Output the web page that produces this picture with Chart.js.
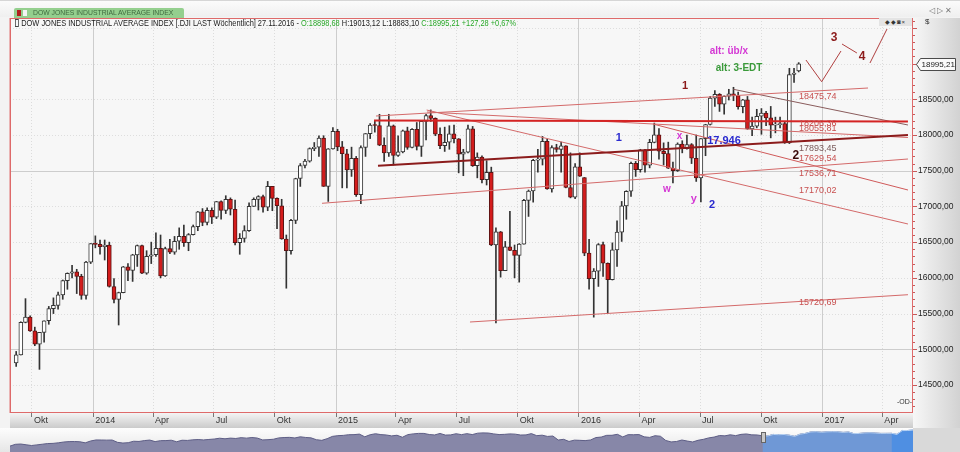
<!DOCTYPE html>
<html><head><meta charset="utf-8">
<script src="https://cdn.jsdelivr.net/npm/chart.js@4.4.1/dist/chart.umd.min.js"></script>
<style>
html,body{margin:0;padding:0}
body{width:960px;height:452px;overflow:hidden;background:#f3f3f3;font-family:"Liberation Sans",Arial,sans-serif;position:relative}
canvas{position:absolute;left:0}
#main{top:0}
#nav{top:428px}
.topbar{position:absolute;left:0;top:0;width:960px;height:17px;background:linear-gradient(#fbfbfb,#efefef);border-top:1px solid #d6d6d6;box-sizing:border-box}
.tab{position:absolute;left:14px;top:7px;width:170px;height:10px;background:#94cf8e;border-radius:2px 2px 0 0}
.tab i{position:absolute;top:2px;width:4px;height:6px}
.tab span{position:absolute;left:19px;top:0;font-size:7.5px;line-height:10px;color:#3f6a3f;white-space:nowrap;transform:scaleX(0.91);transform-origin:0 0}
.winbtn{position:absolute;right:6px;top:5px;font-size:8px;color:#777;letter-spacing:2px}
.hdr{position:absolute;left:15px;top:17px;font-size:9.5px;line-height:11px;color:#1a1a1a;white-space:nowrap;transform:scaleX(0.78);transform-origin:0 0}
.hdr .g{color:#2aa82a}
.ic{display:inline-block;width:3px;height:6px;border:1px solid #444;margin-right:3px;vertical-align:-1px}
.tools{position:absolute;left:879px;top:18px;width:33px;height:8px;background:#e4e4e4;font-size:6px;line-height:8px;color:#333;text-align:center;letter-spacing:1px}
.dollar{position:absolute;left:925px;top:17px;font-size:8px;color:#333}
.od{position:absolute;left:897px;top:398px;font-size:7px;color:#333}
</style></head><body>
<canvas id="main" width="960" height="452"></canvas>
<canvas id="nav" width="960" height="24"></canvas>
<div class="topbar">
  <div class="tab"><i style="left:3px;background:#b21e1e"></i><i style="left:9px;background:#f4f4f4"></i><span>DOW JONES INDUSTRIAL AVERAGE INDEX</span></div>
  <div class="winbtn">◁▷✕</div>
</div>
<div class="hdr" id="hdr"></div>
<div class="tools">◆◆◙×</div>
<div class="dollar">$</div>
<div class="od">-OD-</div>
<script>
// ---------- DATA (weekly candles, first candle = week ending 2013-09-08) ----------
const firstWeekEnd = '2013-09-08';
const open = [
14810,14922,15376,15452,15258,15073,15237,15400,15570,15615,15762,15962,16064,16086,16020,15755,16221,16479,
16469,16437,16459,15879,15698,15794,16154,16103,16322,16453,16065,16303,16323,16413,16027,16409,16361,16513,16583,16491,16606,16717,16924,16776,16947,16851,17068,16944,17100,16960,16493,16553,16662,17001,17098,17138,16988,17280,17113,17009,16544,16380,16805,17391,17573,17634,17810,17828,17958,17281,17805,18053,
17833,17737,17511,17672,17165,17825,18019,18140,18133,17856,17749,18128,17713,17763,18057,17826,18080,17841,18191,18272,18232,18011,17849,17898,18015,17947,17730,17760,18086,17569,17690,17373,17477,16460,16643,16102,16433,16385,16315,16472,17084,17216,17647,17663,17910,17245,17824,17798,17848,17265,17128,17553,
17405,16346,15988,16094,16466,16205,15974,16392,16640,17007,17213,17602,17516,17792,17577,17897,18003,17773,17740,17535,17500,17873,17807,17865,17675,17400,17949,18147,18517,18571,18433,18543,18577,18553,18395,18492,18085,18124,18262,18308,18240,18138,18145,18161,17888,18847,18898.68
];
const high = [
14970,15385,15709,15470,15310,15130,15400,15600,15720,15800,15970,16070,16174,16120,16050,16230,16480,16588,
16530,16530,16500,15990,15800,16160,16200,16330,16460,16460,16380,16500,16630,16600,16430,16540,16580,16700,16740,16620,16740,16930,16970,16980,16980,17070,17080,17150,17120,17090,16620,16730,17050,17120,17150,17160,17350,17280,17120,17100,16600,16820,17395,17600,17660,17820,17895,17990,17990,17810,18103,18080,
17910,17800,17830,17700,17850,18020,18160,18200,18290,17960,18290,18140,17990,18070,18110,18090,18175,18200,18290,18351,18240,18100,18110,18130,18140,17950,17800,18140,18120,17750,17710,17640,17550,16700,16650,16510,16930,16460,16480,17100,17230,17660,17800,17980,17940,17850,17870,17900,17850,17750,17600,17750,
17405,16540,16130,16480,16500,16210,16490,16800,17070,17220,17620,17630,17800,17800,17940,18167,18090,17890,17900,17620,17890,17920,18000,17880,18000,17950,18150,18540,18622,18580,18550,18640,18668,18600,18500,18540,18250,18360,18370,18330,18400,18250,18250,18190,18934,18935,19013.12
];
const low = [
14760,14920,15370,15250,15050,14719,15100,15350,15500,15560,15700,15840,16000,15780,15700,15700,16200,16420,
16330,16250,15870,15650,15340,15790,15960,15950,16160,16060,16050,16200,16300,16000,16020,16340,16330,16400,16440,16380,16600,16660,16730,16740,16760,16830,16820,16900,16880,16460,16330,16500,16650,17000,16950,16920,16940,16940,16690,16540,15855,16330,16760,17280,17540,17620,17780,17700,17280,17070,17800,17780,
17260,17260,17420,17140,17040,17700,17950,18040,17850,17630,17700,17580,17700,17750,17800,17820,17790,17700,17930,18190,17990,17810,17770,17800,17890,17470,17430,17750,17560,17400,17330,17300,16450,15370,16010,16100,16380,16000,15940,16470,16860,17060,17480,17580,17240,17200,17760,17480,17260,17120,17110,17420,
16310,15840,15450,15880,16020,15503,15970,16160,16510,16820,17140,17420,17480,17480,17540,17890,17660,17580,17530,17330,17490,17750,17800,17600,17350,17063,17710,18140,18400,18330,18290,18490,18480,18360,18310,18080,17990,18100,18010,18130,17960,18030,18100,17883,17880,18736,18883.10
];
const close = [
14922,15376,15452,15258,15073,15237,15400,15570,15615,15762,15962,16064,16086,16020,15755,16221,16479,16469,
16437,16459,15879,15698,15794,16154,16103,16322,16453,16065,16303,16323,16413,16027,16409,16361,16513,16583,16491,16606,16717,16924,16776,16947,16851,17068,16944,17100,16960,16493,16553,16662,17001,17098,17138,16988,17280,17113,17009,16544,16380,16805,17391,17573,17634,17810,17828,17958,17281,17805,18053,17833,
17737,17511,17672,17165,17825,18019,18140,18133,17856,17749,18128,17713,17763,18057,17826,18080,17841,18191,18272,18232,18011,17849,17898,18015,17947,17730,17760,18086,17569,17690,17373,17477,16460,16643,16102,16433,16385,16315,16472,17084,17216,17647,17663,17910,17245,17824,17798,17848,17265,17128,17553,17425,
16346,15988,16094,16466,16205,15974,16392,16640,17007,17213,17602,17516,17792,17577,17897,18003,17773,17740,17535,17500,17873,17807,17865,17675,17400,17949,18147,18517,18571,18433,18543,18577,18553,18395,18492,18085,18124,18262,18308,18240,18138,18145,18161,17888,18847,18868,18995.21
];
const prevClose = 18867.93;

// x-axis tick labels (quarters) and their dates
const xTickDates = ['2013-10-01','2014-01-01','2014-04-01','2014-07-01','2014-10-01','2015-01-01','2015-04-01','2015-07-01','2015-10-01','2016-01-01','2016-04-01','2016-07-01','2016-10-01','2017-01-01','2017-04-01'];
const xTickLabels = ['Okt','2014','Apr','Jul','Okt','2015','Apr','Jul','Okt','2016','Apr','Jul','Okt','2017','Apr'];
const yTicks = [14500,15000,15500,16000,16500,17000,17500,18000,18500,19000,19500];

// trend lines: [weekIndex, value] end points
const lineUpperChannel = [[77.25,18266],[182.88,18658]];
const lineTopHorizontal = [[76.82,18203],[191.46,18189]];
const lineNeck = [[77.68,17570],[191.46,17999]];
const lineFromMay15A = [[88.13,18350],[191.46,16754]];
const lineFromMay15B = [[88.2,18322],[191.46,17965]];
const lineLow2015 = [[65.66,17044],[191.46,17664]];
const lineBottom = [[97.43,15382],[191.46,15764]];
const lineFromApr16 = [[136.72,18154],[191.46,17230]];
const lineFromJul16 = [[153.96,18640],[191.46,18140]];
const waveV = [[169.56,19050],[172.93,18746],[177.08,19176]];
const wave34 = [[177.3,19274],[180.5,19148]];
const wave4up = [[183.3,19008],[186.96,19484]];

// level labels
const levelTexts = ['18475,74','18206,36','18055,81','17893,45','17629,54','17536,71','17170,02','15720,69'];
const levelAt = [18536,18160,18090,17814,17674,17464,17220,15652];
const levelX = 168.06;

// wave notes
const notes = [
  {t:'1', i:143.6, v:18686, c:'#8b1a1a', s:11},
  {t:'3', i:175.6, v:19358, c:'#8b1a1a', s:12},
  {t:'4', i:181.6, v:19092, c:'#8b1a1a', s:12},
  {t:'alt: üb/x', i:153.0, v:19176, c:'#d438d4', s:10},
  {t:'alt: 3-EDT', i:155.2, v:18938, c:'#3a9a3a', s:10},
  {t:'1', i:129.4, v:17962, c:'#2a2acf', s:11},
  {t:'x', i:142.4, v:17986, c:'#d438d4', s:10},
  {t:'17.946', i:151.96, v:17916, c:'#2a2acf', s:11},
  {t:'w', i:139.7, v:17244, c:'#d438d4', s:10},
  {t:'y', i:145.5, v:17100, c:'#d438d4', s:11},
  {t:'2', i:149.4, v:17020, c:'#2a2acf', s:11},
  {t:'2', i:167.4, v:17706, c:'#3a0a0a', s:12}
];
const navWindowStart = 140;
const navWindowEnd = 164;

// ---------- helpers ----------
const fmt = v => v.toFixed(2).replace('.', ',');
const DAY = 86400000;
const weekIdx = d => (Date.parse(d) - Date.parse(firstWeekEnd)) / (7 * DAY);
const xTickPos = xTickDates.map(weekIdx);
const N = close.length;
const FONT = '"Liberation Sans", Arial, sans-serif';

// header text
(function(){
  const L = N - 1, ch = close[L] - prevClose;
  document.getElementById('hdr').innerHTML =
    '<span class="ic"></span>DOW JONES INDUSTRIAL AVERAGE INDEX [.DJI LAST Wöchentlich] 27.11.2016 - ' +
    '<span class="g">O:' + fmt(open[L]) + '</span> H:' + fmt(high[L]) + ' L:' + fmt(low[L]) +
    ' <span class="g">C:' + fmt(close[L]) + ' +' + fmt(ch) + ' +' + fmt(ch / prevClose * 100) + '%</span>';
})();

const up = i => close[i] >= open[i];
const pts = a => a.map(p => ({x:p[0], y:p[1]}));
function lineDs(arr, color, width){
  return {type:'line', data:pts(arr), borderColor:color, borderWidth:width, pointRadius:0, fill:false, tension:0, order:0};
}

const bgPlugin = {
  id:'bg',
  beforeDraw(chart){
    const {ctx, chartArea:a, scales:{x, y}} = chart;
    ctx.save();
    ctx.fillStyle = '#f3f3f3'; ctx.fillRect(0, 0, chart.width, chart.height);
    ctx.fillStyle = '#f7f7f7'; ctx.fillRect(a.left, a.top, a.right - a.left, a.bottom - a.top);
    let g = ctx.createLinearGradient(a.right, 0, chart.width, 0);
    g.addColorStop(0, '#f7f7f7'); g.addColorStop(1, '#d2d2d2');
    ctx.fillStyle = g; ctx.fillRect(a.right, a.top, chart.width - a.right, a.bottom + 15 - a.top);
    g = ctx.createLinearGradient(0, a.bottom, 0, a.bottom + 15);
    g.addColorStop(0, '#f4f4f4'); g.addColorStop(1, '#cbcbcb');
    ctx.fillStyle = g; ctx.fillRect(a.left, a.bottom, a.right - a.left, 15);
    // grid
    ctx.lineWidth = 1;
    xTickPos.forEach((v, k) => {
      const px = Math.round(x.getPixelForValue(v)) + 0.5;
      const major = /^\d{4}$/.test(xTickLabels[k]);
      ctx.strokeStyle = major ? '#cdcdcd' : '#dcdcdc';
      ctx.setLineDash(major ? [] : [1, 2]);
      ctx.beginPath(); ctx.moveTo(px, a.top); ctx.lineTo(px, a.bottom); ctx.stroke();
    });
    yTicks.forEach(v => {
      const py = Math.round(y.getPixelForValue(v)) + 0.5;
      const major = v % 2500 === 0;
      ctx.strokeStyle = major ? '#cdcdcd' : '#dedede';
      ctx.setLineDash(major ? [] : [1, 2]);
      ctx.beginPath(); ctx.moveTo(a.left, py); ctx.lineTo(a.right, py); ctx.stroke();
    });
    ctx.setLineDash([]);
    ctx.restore();
  },
  afterDatasetsDraw(chart){
    const {ctx, scales:{x, y}} = chart;
    ctx.save();
    ctx.textBaseline = 'middle';
    ctx.textAlign = 'left';
    ctx.font = '9px ' + FONT;
    levelTexts.forEach((t, k) => {
      ctx.fillStyle = t === '17893,45' ? '#7a5a5a' : '#c85050';
      ctx.fillText(t, x.getPixelForValue(levelX), y.getPixelForValue(levelAt[k]));
    });
    ctx.textAlign = 'center';
    notes.forEach(n => {
      ctx.font = 'bold ' + n.s + 'px ' + FONT;
      ctx.fillStyle = n.c;
      ctx.fillText(n.t, x.getPixelForValue(n.i), y.getPixelForValue(n.v));
    });
    ctx.restore();
  },
  afterDraw(chart){
    const {ctx, chartArea:a, scales:{x, y}} = chart;
    ctx.save();
    ctx.lineWidth = 1;
    // axis ticks
    ctx.strokeStyle = '#c85a5a';
    for (let v = 14200; v <= 19600; v += 100) {
      const py = Math.round(y.getPixelForValue(v)) + 0.5;
      const len = v % 500 === 0 ? 4 : 2;
      ctx.beginPath(); ctx.moveTo(a.right, py); ctx.lineTo(a.right + len, py); ctx.stroke();
    }
    ctx.strokeStyle = '#777';
    xTickPos.forEach(v => {
      const px = Math.round(x.getPixelForValue(v)) + 0.5;
      ctx.beginPath(); ctx.moveTo(px, a.bottom); ctx.lineTo(px, a.bottom + 4); ctx.stroke();
    });
    // border
    ctx.strokeStyle = '#eab4b4';
    ctx.beginPath(); ctx.moveTo(a.left - 0.5, a.top); ctx.lineTo(a.left - 0.5, a.bottom); ctx.stroke();
    ctx.strokeStyle = '#de6a6a';
    ctx.strokeRect(a.left + 0.5, a.top + 0.5, a.right - a.left - 1, a.bottom - a.top - 1);
    // price tag
    const last = close[N - 1];
    const py = Math.round(y.getPixelForValue(last)) + 0.5;
    const x0 = a.right + 3.5, x1 = a.right + 7.5, x2 = chart.width - 4.5;
    ctx.beginPath();
    ctx.moveTo(x0, py); ctx.lineTo(x1, py - 6); ctx.lineTo(x2, py - 6); ctx.lineTo(x2, py + 6); ctx.lineTo(x1, py + 6); ctx.closePath();
    ctx.fillStyle = '#fafafa'; ctx.fill();
    ctx.strokeStyle = '#4a4a4a'; ctx.stroke();
    ctx.fillStyle = '#222'; ctx.font = '8px ' + FONT; ctx.textBaseline = 'middle'; ctx.textAlign = 'left';
    ctx.fillText(fmt(last), x1 + 1, py + 0.5);
    ctx.restore();
  }
};

const idx = Array.from({length:N}, (_, i) => i);
new Chart(document.getElementById('main'), {
  type:'bar',
  data:{
    datasets:[
      lineDs(lineUpperChannel, '#d46a6a', 1),
      lineDs(lineTopHorizontal, '#d42424', 2),
      lineDs(lineNeck, '#8c1c1c', 2),
      lineDs(lineFromMay15A, '#d46a6a', 1),
      lineDs(lineFromMay15B, '#d46a6a', 1),
      lineDs(lineLow2015, '#d46a6a', 1),
      lineDs(lineBottom, '#d46a6a', 1),
      lineDs(lineFromApr16, '#d05a5a', 1),
      lineDs(lineFromJul16, '#8a5c5c', 1),
      lineDs(waveV, '#b04040', 1),
      lineDs(wave34, '#b04040', 1),
      lineDs(wave4up, '#b04040', 1),
      {
        type:'bar', order:1, grouped:false,
        data: idx.map(i => ({x:i, y:[open[i], close[i]]})),
        barThickness:4, categoryPercentage:1, barPercentage:1, minBarLength:1,
        borderWidth:1, borderSkipped:false,
        backgroundColor: c => up(c.dataIndex) ? '#ffffff' : '#d41c1c',
        borderColor: c => up(c.dataIndex) ? '#353535' : '#5c1414'
      },
      {
        type:'bar', order:2, grouped:false,
        data: idx.map(i => ({x:i, y:[low[i], high[i]]})),
        barThickness:1, categoryPercentage:1, barPercentage:1,
        borderWidth:0, backgroundColor:'#333333'
      }
    ]
  },
  options:{
    responsive:false, animation:false, events:[],
    layout:{padding:{left:10, top:18, right:0, bottom:24}},
    plugins:{legend:{display:false}, tooltip:{enabled:false}},
    scales:{
      x:{
        type:'linear', min:-1.325, max:192.54, bounds:'data', offset:false,
        grid:{display:false, drawTicks:false}, border:{display:false},
        afterBuildTicks: s => { s.ticks = xTickPos.map(v => ({value:v})); },
        afterFit: s => { s.height = 15; },
        ticks:{autoSkip:false, maxRotation:0, minRotation:0, align:'start', padding:2, color:'#333',
               font:{size:9, family:FONT}, callback:(v, k) => ' ' + xTickLabels[k]}
      },
      y:{
        type:'linear', position:'right', min:14108, max:19638, bounds:'data',
        grid:{display:false, drawTicks:false}, border:{display:false},
        afterBuildTicks: s => { s.ticks = yTicks.map(v => ({value:v})); },
        afterFit: s => { s.width = 47; },
        ticks:{padding:5, color:'#222', font:{size:8.5, family:FONT},
               callback: v => (v <= 18500 ? fmt(v) : '')}
      }
    }
  },
  plugins:[bgPlugin]
});

// ---------- navigator ----------
const navBg = {
  id:'navbg',
  beforeDraw(chart){
    const {ctx, chartArea:a} = chart;
    ctx.save();
    const g = ctx.createLinearGradient(0, 0, 0, chart.height);
    g.addColorStop(0, '#fdfdfd'); g.addColorStop(1, '#e6e6e6');
    ctx.fillStyle = g; ctx.fillRect(0, 0, chart.width, chart.height);
    ctx.fillStyle = '#d9d9d9'; ctx.fillRect(a.right, 0, chart.width - a.right, chart.height);
    ctx.restore();
  },
  afterDraw(chart){
    const {ctx, scales:{x}} = chart;
    const px = Math.round(x.getPixelForValue(navWindowStart));
    ctx.save();
    ctx.fillStyle = '#c8c8c8'; ctx.strokeStyle = '#666';
    ctx.fillRect(px - 1.5, 4.5, 4, 10); ctx.strokeRect(px - 1.5, 4.5, 4, 10);
    ctx.restore();
  }
};
new Chart(document.getElementById('nav'), {
  type:'line',
  data:{datasets:[
    {order:3, data: idx.map(i => ({x:i, y:close[i]})), fill:'start', backgroundColor:'#8787a8', borderColor:'#5e5e86', borderWidth:1, pointRadius:0, tension:0},
    {order:2, data: idx.map(i => ({x:i, y: i >= navWindowStart ? close[i] : null})), fill:'start', backgroundColor:'#6f98d6', borderColor:'#b6d2f4', borderWidth:1, pointRadius:0, tension:0},
    {order:1, data: idx.map(i => ({x:i, y: i >= navWindowEnd ? close[i] : null})), fill:'start', backgroundColor:'#4f8fe2', borderColor:'#b6d2f4', borderWidth:1, pointRadius:0, tension:0}
  ]},
  options:{
    responsive:false, animation:false, events:[],
    layout:{padding:{left:10, right:47, top:0, bottom:0}},
    plugins:{legend:{display:false}, tooltip:{enabled:false}},
    scales:{x:{type:'linear', display:false, min:0, max:N - 1}, y:{display:false, min:13435, max:19506}}
  },
  plugins:[navBg]
});
</script>
</body></html>
